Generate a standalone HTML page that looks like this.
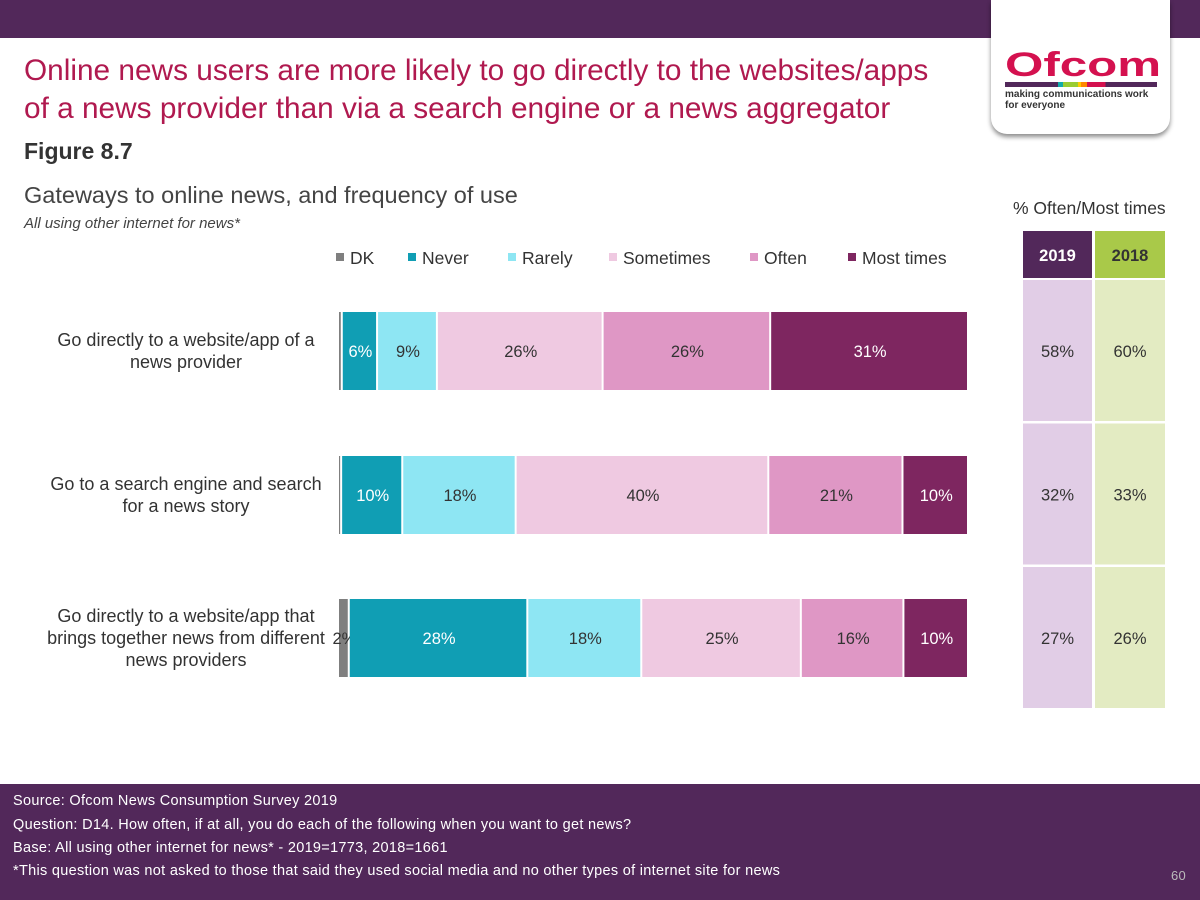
<!DOCTYPE html>
<html><head><meta charset="utf-8"><style>
body{margin:0;width:1200px;height:900px;position:relative;background:#fff;font-family:"Liberation Sans",sans-serif;overflow:hidden}
.abs{position:absolute}
</style></head><body>
<div class="abs" style="left:0;top:0;width:1200px;height:38px;background:#52285a"></div>
<div class="abs" style="left:991px;top:0;width:179px;height:134px;background:#fff;border-radius:0 0 16px 16px;box-shadow:0 3px 5px rgba(0,0,0,0.45)">
 <div class="abs" style="left:14px;top:50px;font-size:34px;font-weight:bold;color:#d4114f;line-height:30px;transform:scaleX(1.45);transform-origin:left top">Ofcom</div>
 <div class="abs" style="left:14px;top:82px;width:152px;height:5px;background:linear-gradient(90deg,#52285a 0 35%,#1aa 35% 38%,#9c3 38% 48%,#fc0 48% 50%,#f80 50% 54%,#d4114f 54% 66%,#52285a 66%)"></div>
 <div class="abs" style="left:14px;top:89px;font-size:10px;line-height:11px;color:#333;font-weight:bold">making communications work<br>for everyone</div>
</div>
<div class="abs" style="left:24px;top:52px;font-size:29.8px;line-height:38px;color:#b0194f;white-space:nowrap">Online news users are more likely to go directly to the websites/apps<br>of a news provider than via a search engine or a news aggregator</div>
<div class="abs" style="left:24px;top:138px;font-size:23px;font-weight:bold;color:#333">Figure 8.7</div>
<div class="abs" style="left:24px;top:182px;font-size:23.5px;color:#444">Gateways to online news, and frequency of use</div>
<div class="abs" style="left:24px;top:215px;font-size:15px;font-style:italic;color:#444">All using other internet for news*</div>
<div class="abs" style="left:1013px;top:198px;font-size:17.5px;color:#333;white-space:nowrap">% Often/Most times</div>
<svg class="abs" style="left:0;top:0" width="1200" height="780" id="chart"></svg>
<div class="abs" style="left:0;top:784px;width:1200px;height:116px;background:#52285a;color:#fff;font-size:14.5px;letter-spacing:0.3px;white-space:nowrap">
 <div class="abs" style="left:13px;top:9px">Source: Ofcom News Consumption Survey 2019</div>
 <div class="abs" style="left:13px;top:33px">Question: D14. How often, if at all, you do each of the following when you want to get news?</div>
 <div class="abs" style="left:13px;top:56px">Base: All using other internet for news* - 2019=1773, 2018=1661</div>
 <div class="abs" style="left:13px;top:79px">*This question was not asked to those that said they used social media and no other types of internet site for news</div>
 <div class="abs" style="left:1171px;top:84px;color:#bbb;font-size:13px">60</div>
</div>
<script>
const categories=["Go directly to a website/app of a|news provider","Go to a search engine and search|for a news story","Go directly to a website/app that|brings together news from different|news providers"];
const seriesNames=["DK","Never","Rarely","Sometimes","Often","Most times"];
const dk=[0.6,0.5,1.7];
const never=[5.6,9.7,28.2];
const rarely=[9.5,18,18];
const sometimes=[26.3,40.1,25.2];
const often=[26.6,21.3,16.2];
const most=[31.4,10.4,10.2];
const labelsNever=["6%","10%","28%"];
const labelsRarely=["9%","18%","18%"];
const labelsSometimes=["26%","40%","25%"];
const labelsOften=["26%","21%","16%"];
const labelsMost=["31%","10%","10%"];
const labelsDk=["","","2%"];
const years=["2019","2018"];
const pct2019=["58%","32%","27%"];
const pct2018=["60%","33%","26%"];
const colors=["#7f7f7f","#109eb4","#8ee6f3","#efc9e1","#df97c5","#7e2660"];
const txtCol=["#333","#fff","#333","#333","#333","#fff"];
const svg=document.getElementById('chart');const NS="http://www.w3.org/2000/svg";
const X0=339,X1=969,rowY=[312,456,599],barH=78;
function mk(t,a){const e=document.createElementNS(NS,t);for(const k in a)e.setAttribute(k,a[k]);svg.appendChild(e);return e;}
const series=[dk,never,rarely,sometimes,often,most];
const labs=[labelsDk,labelsNever,labelsRarely,labelsSometimes,labelsOften,labelsMost];
categories.forEach((c,i)=>{
  const tot=series.reduce((s,a)=>s+a[i],0);const sx=v=>v/tot*(X1-X0);
  let x=X0;
  series.forEach((s,j)=>{
    const w=sx(s[i]);
    const r=mk('rect',{x:x,y:rowY[i],width:Math.max(w-2,1),height:barH,fill:colors[j]});
    
    
    if(labs[j][i]){const t=mk('text',{x:x+w/2,y:rowY[i]+barH/2+6,'text-anchor':'middle','font-size':16.5,fill:j==0?'#333':txtCol[j]});t.textContent=labs[j][i];
      
      }
    x+=w;
  });
  const lines=c.split('|');
  lines.forEach((l,k)=>{const t=mk('text',{x:186,y:rowY[i]+barH/2+6+(k-(lines.length-1)/2)*22,'text-anchor':'middle','font-size':18,fill:'#333'});t.textContent=l;
    
    });
});
const legX=[336,408,508,609,750,848];
seriesNames.forEach((n,j)=>{
  const r=mk('rect',{x:legX[j],y:253,width:8,height:8,fill:colors[j]});
  
  
  const t=mk('text',{x:legX[j]+14,y:264,'font-size':17.5,fill:'#333'});t.textContent=n;
  
  
});
const colX=[1023,1095],colW=[69,70],hdrFill=["#52285a","#a9c949"],hdrTxt=["#fff","#333"],cellFill=["#e1cde6","#e3ebc2"];
const vals=[pct2019,pct2018];
years.forEach((y,j)=>{
  const h=mk('rect',{x:colX[j],y:231,width:colW[j],height:47,fill:hdrFill[j]});
  
  
  const t=mk('text',{x:colX[j]+colW[j]/2,y:261,'text-anchor':'middle','font-size':16.5,'font-weight':'bold',fill:hdrTxt[j]});t.textContent=y;
  
  
  vals[j].forEach((v,i)=>{
    const cy=280+i*143.5;
    const c=mk('rect',{x:colX[j],y:cy,width:colW[j],height:141,fill:cellFill[j]});
    
    
    const tt=mk('text',{x:colX[j]+colW[j]/2,y:cy+77,'text-anchor':'middle','font-size':16.5,fill:'#333'});tt.textContent=v;
    
    
  });
});
</script>
</body></html>
